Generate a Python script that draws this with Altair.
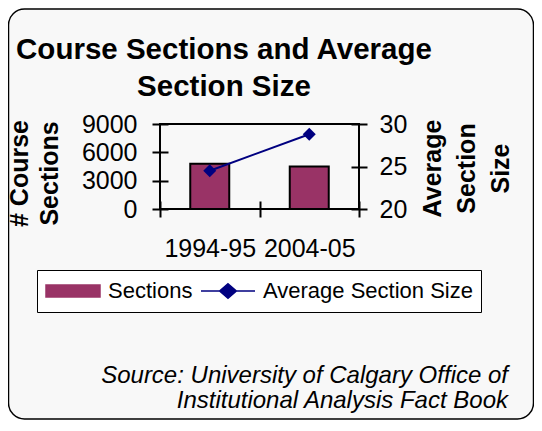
import altair as alt
import pandas as pd

# ---- data ----
years = ["1994-95", "2004-05"]
sections = [4790, 4500]
avg_size = [24.5, 28.8]
bar_label = "Sections"
line_label = "Average Section Size"
title_lines = ["Course Sections and Average", "Section Size"]
source_lines = ["Source:  University of Calgary Office of", "Institutional Analysis Fact Book"]
left_ticks = [0, 3000, 6000, 9000]
right_ticks = [20, 25, 30]

FONT = "Liberation Sans"
BAR_COLOR = "#993366"
LINE_COLOR = "#000080"
W, H = 199, 85

df = pd.DataFrame({
    "year": years,
    "sections": sections,
    "avg": avg_size,
    "bar_series": [bar_label] * len(years),
    "line_series": [line_label] * len(years),
})

bar_path = "M-1,-0.222H1V0.222H-1Z"
line_path = "M-1,0H1M0,-0.27L0.31,0L0,0.27L-0.31,0Z"
is_bar = f"datum.value == '{bar_label}'"

legend = alt.Legend(
    title=None, orient="none", legendX=-123, legendY=146, direction="horizontal",
    fillColor="white", strokeColor="black", padding=8, clipHeight=26,
    labelFont=FONT, labelFontSize=22, labelColor="black", labelOffset=7, labelLimit=400,
    columnPadding=7, symbolSize=2916, symbolStrokeWidth=1.5, symbolOpacity=1,
    symbolType={"expr": f"{is_bar} ? '{bar_path}' : '{line_path}'"},
    symbolFillColor={"expr": f"{is_bar} ? '{BAR_COLOR}' : '{LINE_COLOR}'"},
    symbolStrokeColor={"expr": f"{is_bar} ? 'black' : '{LINE_COLOR}'"},
)
color_scale = alt.Scale(domain=[bar_label, line_label], range=[BAR_COLOR, LINE_COLOR])

x_enc = alt.X(
    "year:N", sort=years,
    scale=alt.Scale(paddingInner=0, paddingOuter=0),
    axis=alt.Axis(title=None, orient="bottom", offset=-8, tickSize=16, tickBand="extent",
                  domain=False, labelAngle=0, labelPadding=19, labelFontSize=25,
                  labelFont=FONT, labelColor="black",
                  tickColor="black", tickWidth=2, zindex=2),
)

bars = alt.Chart(df).mark_bar(size=39, stroke="black", strokeWidth=2).encode(
    x=x_enc,
    y=alt.Y("sections:Q", scale=alt.Scale(domain=[0, 9000], nice=False),
            axis=alt.Axis(values=left_ticks, format="d", orient="left", offset=-8, tickSize=16,
                          domain=False, labelPadding=15, labelFontSize=25,
                          labelFont=FONT, labelColor="black",
                          tickColor="black", tickWidth=2, zindex=2,
                          title=["# Course", "Sections"], titleFont=FONT, titleFontSize=25,
                          titleFontWeight="bold", titleAngle=270, titleBaseline="alphabetic",
                          titleColor="black",
                          titleLineHeight=30, titleX=-141, titleY=49, titleAlign="center")),
    color=alt.Color("bar_series:N", scale=color_scale, legend=legend),
)

line = alt.Chart(df).mark_line(strokeWidth=2).encode(
    x=alt.X("year:N", sort=years),
    y=alt.Y("avg:Q", scale=alt.Scale(domain=[20, 30], nice=False),
            axis=alt.Axis(values=right_ticks, format="d", orient="right", offset=-8, tickSize=16,
                          domain=False, labelPadding=12, labelFontSize=25,
                          labelFont=FONT, labelColor="black",
                          tickColor="black", tickWidth=2, zindex=2,
                          title=["Average", "Section", "Size"], titleFont=FONT, titleFontSize=25,
                          titleFontWeight="bold", titleAngle=270, titleBaseline="alphabetic",
                          titleColor="black",
                          titleLineHeight=34, titleX=89, titleY=44, titleAlign="center")),
    color=alt.Color("line_series:N", scale=color_scale, legend=legend),
)
points = alt.Chart(df).mark_point(shape="diamond", filled=True, size=170, opacity=1).encode(
    x=alt.X("year:N", sort=years),
    y=alt.Y("avg:Q"),
    color=alt.Color("line_series:N", scale=color_scale, legend=legend),
)

one = pd.DataFrame({"t": ["\n".join(title_lines)], "s": ["\n".join(source_lines)]})

frame = alt.Chart(one).mark_rect(fill="#f8f8f8", stroke="black", strokeWidth=1.5,
                                  cornerRadius=16).encode(
    x=alt.value(-151.5), x2=alt.value(373.5), y=alt.value(-115), y2=alt.value(295))

border = alt.Chart(one).mark_rect(fill=None, stroke="black", strokeWidth=2).encode(
    x=alt.value(0), x2=alt.value("width"), y=alt.value(0), y2=alt.value("height"))

title = alt.Chart(one).mark_text(font=FONT, fontSize=29.5, fontWeight="bold", align="center",
                                  baseline="alphabetic", lineBreak="\n", lineHeight=37.4,
                                  color="black").encode(
    text="t:N", x=alt.value(64), y=alt.value(-65))

source = alt.Chart(one).mark_text(font=FONT, fontSize=24, fontStyle="italic", align="right",
                                   baseline="alphabetic", lineBreak="\n", lineHeight=25,
                                   color="black").encode(
    text="s:N", x=alt.value(348), y=alt.value(259))

decor = alt.layer(frame, title, source)
main = alt.layer(bars, border, alt.layer(line, points)).resolve_scale(y="independent")

chart = alt.layer(decor, main).properties(
    width=W, height=H,
    autosize=alt.AutoSizeParams(type="none"),
    padding={"left": 152, "top": 116, "right": 175, "bottom": 211},
    background="white",
).configure_view(stroke=None).configure_axis(grid=False)

chart.save("out.html", embed_options={"renderer": "svg", "actions": False})
